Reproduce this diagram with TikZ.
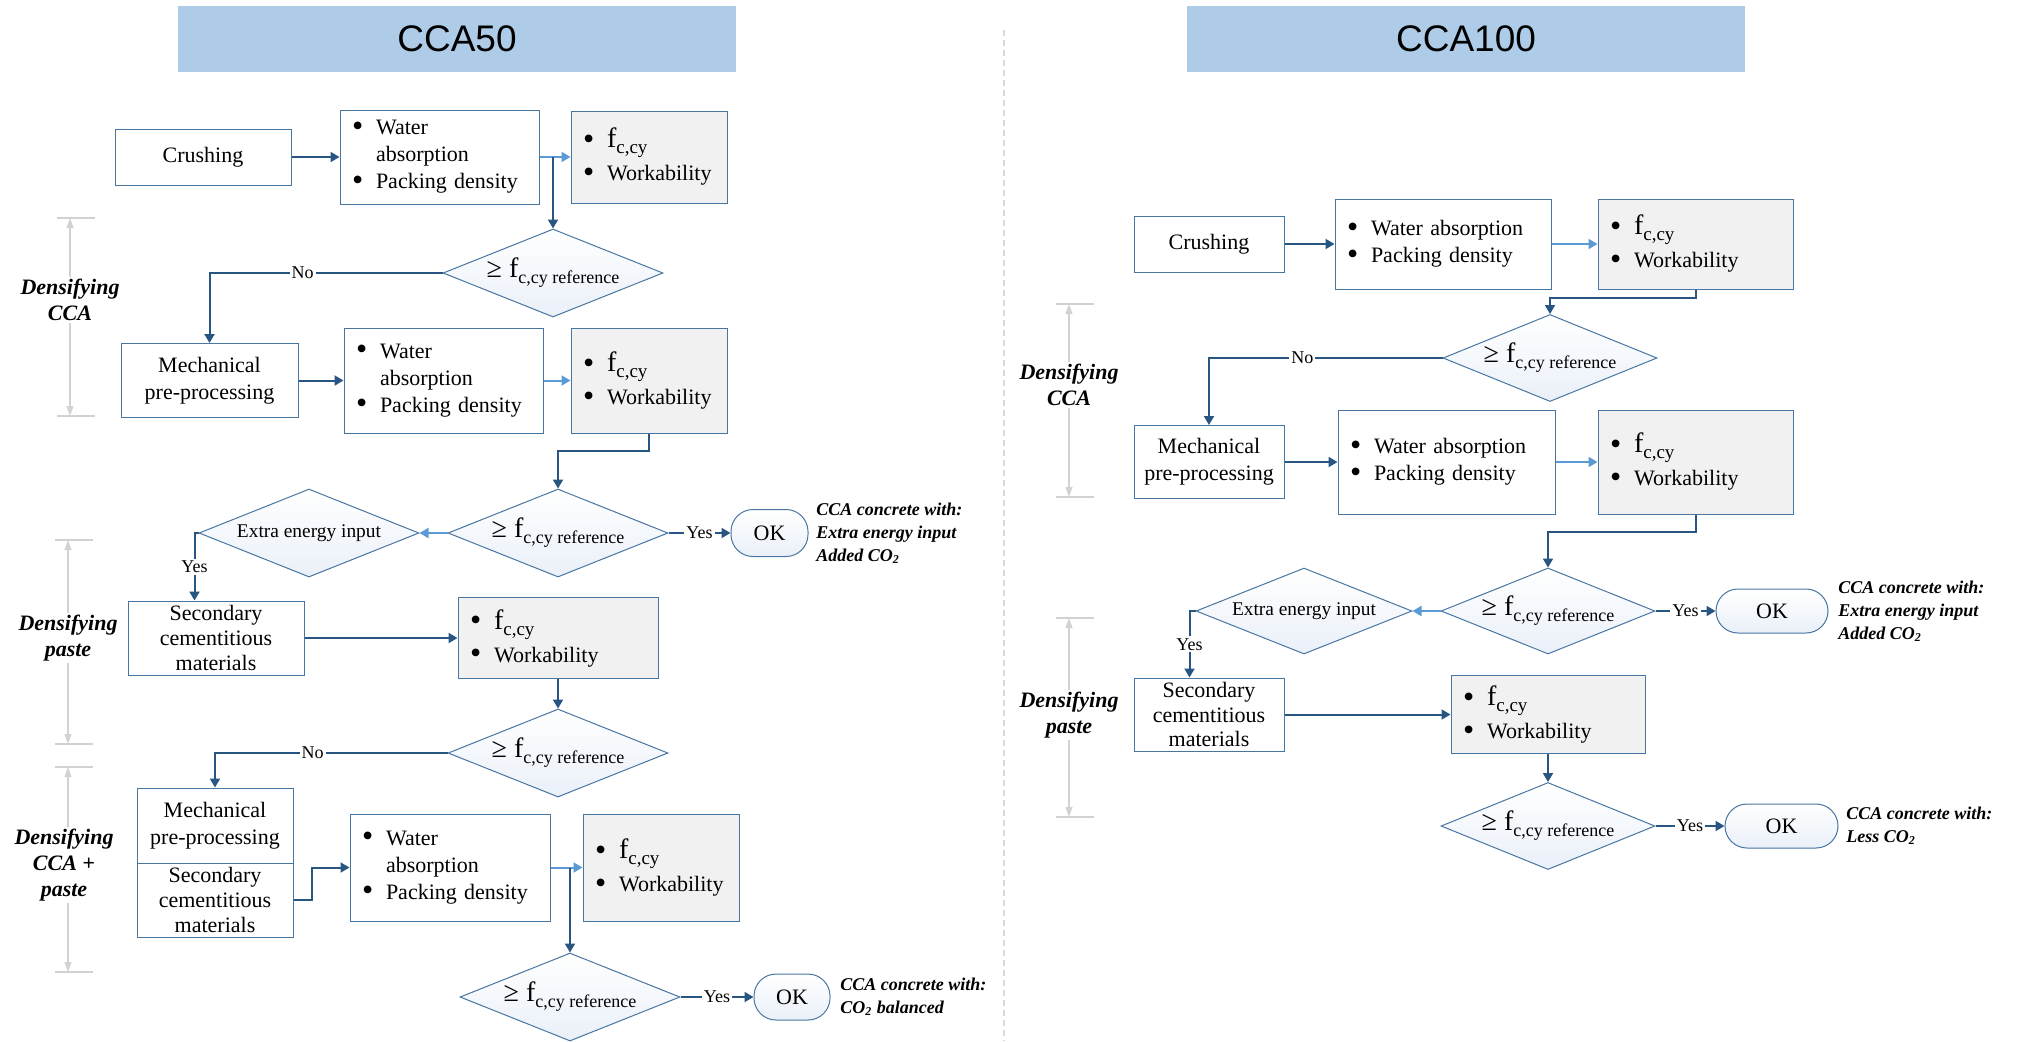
\documentclass[tikz,border=0pt]{standalone}
\usepackage{fontspec}
\setmainfont{Liberation Serif}
\setsansfont{Liberation Sans}
\usetikzlibrary{arrows.meta,positioning,calc,shapes.geometric}
\definecolor{cTitle}{RGB}{174,204,232}
\definecolor{cLine} {RGB}{72,118,162}
\definecolor{cArr}  {RGB}{40,85,130}
\definecolor{cLight}{RGB}{91,155,213}
\definecolor{cGray} {RGB}{241,241,241}
\definecolor{cDia}  {RGB}{234,240,249}
\newcommand{\itm}{\makebox[12pt][l]{\raisebox{-0.8pt}{\fontsize{16}{16}\selectfont\textbullet}}}
\newcommand{\itmind}{\hspace*{12pt}}
\newcommand{\fccy}{{\fontsize{14}{14}\selectfont f}\raisebox{-3pt}{\fontsize{9.5}{9.5}\selectfont c,cy}}
\newcommand{\fcyref}{{\fontsize{14}{14}\selectfont ≥ f}\raisebox{-3pt}{\fontsize{9}{9}\selectfont c,cy reference}}
\newcommand{\fwlist}{\itm\fccy\\[3pt]\itm Workability}
\newcommand{\wpsplit}{\itm Water\\\itmind absorption\\\itm Packing density}
\newcommand{\wpline}{\itm Water absorption\\\itm Packing density}
\tikzset{
  >={Triangle[length=4.5pt,width=5pt]},
  ttl/.style={fill=cTitle,minimum width=279pt,minimum height=33pt,
              font=\sffamily\fontsize{18.5}{20}\selectfont},
  box/.style={draw=cLine,fill=white,line width=0.5pt,inner sep=0pt,align=center,
              font=\fontsize{11}{13.5}\selectfont},
  sec/.style={font=\fontsize{11}{12.4}\selectfont},          % three-line boxes
  lbox/.style={box,align=left,inner xsep=6pt},                % bullet list box
  glbox/.style={lbox,fill=cGray},                             % grey result box
  dec/.style={diamond,draw=cLine,line width=0.5pt,inner sep=0pt,aspect=2.5,
              top color=white,bottom color=cDia,minimum width=110pt,minimum height=44pt},
  okbox/.style={draw=cLine,line width=0.5pt,rounded corners=11pt,inner sep=0pt,
              top color=white,bottom color=cDia,font=\fontsize{11}{11}\selectfont},
  note/.style={anchor=west,inner sep=0pt,align=left,
              font=\bfseries\itshape\fontsize{9}{11.5}\selectfont},
  dens/.style={fill=white,inner sep=1pt,align=center,
              font=\bfseries\itshape\fontsize{11}{13}\selectfont},
  arr/.style={->,draw=cArr,line width=1pt},
  larr/.style={->,draw=cLight,line width=1pt},
  lbl/.style={fill=white,inner sep=1pt,text=black,font=\fontsize{9}{9}\selectfont},
  brk/.style={draw=gray!35,line width=0.6pt},
  brka/.style={brk,>={Triangle[length=5pt,width=3.5pt]},<->},
  sepl/.style={draw=gray!30,line width=0.8pt,dash pattern=on 3pt off 2pt},
}
\begin{document}
\begin{tikzpicture}[x=0.5pt,y=-0.5pt]
  \useasboundingbox (0,0) rectangle (2018,1041);
  \draw[sepl] (1004,30) -- (1004,1041);

  % ---- CCA50 ----
  \node[ttl] (tL) at (457,39) {CCA50};
  \node[box,minimum width=88pt,minimum height=28pt] (crushL) at (203,157) {Crushing};
  \node[lbox,text width=87.5pt,minimum height=47pt] (wpL1) at (439.5,157) {\wpsplit};
  \node[glbox,text width=66pt,minimum height=46pt] (fwL1) at (649,157) {\fwlist};
  \node[dec] (decL1) at (553,273) {\fcyref};
  \node[box,minimum width=88.5pt,minimum height=37pt] (mechL) at (209.5,380.5) {Mechanical\\pre-processing};
  \node[lbox,text width=87.5pt,minimum height=52.5pt] (wpL2) at (443.5,380.5) {\wpsplit};
  \node[glbox,text width=66pt,minimum height=52.5pt] (fwL2) at (649,380.5) {\fwlist};
  \node[dec] (decL2) at (558,533) {\fcyref};
  \node[dec,font=\fontsize{9.7}{11}\selectfont] (extraL) at (309,533) {Extra energy input};
  \node[okbox,minimum width=38.5pt,minimum height=23.5pt] (okL1) at (769.5,533) {OK};
  \node[note] (nL1) at (816,533) {CCA concrete with:\\Extra energy input\\Added CO\textsubscript{2}};
  \node[box,sec,minimum width=88pt,minimum height=37pt] (secL) at (216,638) {Secondary\\cementitious\\materials};
  \node[glbox,text width=88pt,minimum height=40.5pt] (fwL3) at (558,638) {\fwlist};
  \node[dec] (decL3) at (558,753) {\fcyref};
  \node[box,minimum width=78pt,minimum height=37.5pt] (mechL2) at (215,825.5) {Mechanical\\pre-processing};
  \node[box,sec,minimum width=78pt,minimum height=37pt] (secL2) at (215,900) {Secondary\\cementitious\\materials};
  \node[lbox,text width=88pt,minimum height=53.5pt] (wpL3) at (450,867.5) {\wpsplit};
  \node[glbox,text width=66pt,minimum height=53.5pt] (fwL4) at (661,867.5) {\fwlist};
  \node[dec] (decL4) at (570,997) {\fcyref};
  \node[okbox,minimum width=38pt,minimum height=23pt] (okL2) at (792,997) {OK};
  \node[note] (nL2) at (840,997) {CCA concrete with:\\CO\textsubscript{2} balanced};

  \draw[arr]  (crushL.east) -- (wpL1.west);
  \draw[larr] (wpL1.east) -- (fwL1.west);
  \draw[arr]  (decL1.north |- wpL1.east) -- (decL1.north);
  \draw[arr]  (decL1.west) -| node[lbl,pos=0.3]{No} (mechL.north);
  \draw[arr]  (mechL.east) -- (wpL2.west);
  \draw[larr] (wpL2.east) -- (fwL2.west);
  \draw[arr]  (fwL2.south) -- ++(0,17) -| (decL2.north);
  \draw[larr] (decL2.west) -- (extraL.east);
  \draw[arr]  (decL2.east) -- node[lbl]{Yes} (okL1.west);
  \draw[arr]  (extraL.west) -- ++(-4,0) -- node[lbl]{Yes} ($(extraL.west |- secL.north)+(-4,0)$);
  \draw[arr]  (secL.east) -- (fwL3.west);
  \draw[arr]  (fwL3.south) -- (decL3.north);
  \draw[arr]  (decL3.west) -| node[lbl,pos=0.29]{No} (mechL2.north);
  \draw[arr]  (secL2.east) -- ++(18,0) |- (wpL3.west);
  \draw[larr] (wpL3.east) -- (fwL4.west);
  \draw[arr]  (decL4.north |- wpL3.east) -- (decL4.north);
  \draw[arr]  (decL4.east) -- node[lbl]{Yes} (okL2.west);

  % ---- CCA100 ----
  \node[ttl] (tR) at (1466,39) {CCA100};
  \node[box,minimum width=75pt,minimum height=28pt] (crushR) at (1209,244) {Crushing};
  \node[lbox,text width=96pt,minimum height=45pt] (wpR1) at (1443,244) {\wpline};
  \node[glbox,text width=85.5pt,minimum height=45pt] (fwR1) at (1695.5,244) {\fwlist};
  \node[dec,minimum width=107pt,minimum height=43.5pt] (decR1) at (1550,358) {\fcyref};
  \node[box,minimum width=75pt,minimum height=36.5pt] (mechR) at (1209,462) {Mechanical\\pre-processing};
  \node[lbox,text width=96.5pt,minimum height=52pt] (wpR2) at (1446.5,462) {\wpline};
  \node[glbox,text width=85.5pt,minimum height=52pt] (fwR2) at (1695.5,462) {\fwlist};
  \node[dec,minimum width=107pt,minimum height=43pt] (decR2) at (1548,611) {\fcyref};
  \node[dec,minimum width=108pt,minimum height=43pt,font=\fontsize{9.7}{11}\selectfont] (extraR) at (1304,611) {Extra energy input};
  \node[okbox,minimum width=56pt,minimum height=22pt] (okR1) at (1772,611) {OK};
  \node[note] (nR1) at (1838,611) {CCA concrete with:\\Extra energy input\\Added CO\textsubscript{2}};
  \node[box,sec,minimum width=75pt,minimum height=36.5pt] (secR) at (1209,714.5) {Secondary\\cementitious\\materials};
  \node[glbox,text width=85pt,minimum height=39pt] (fwR3) at (1548,714.5) {\fwlist};
  \node[dec,minimum width=107pt,minimum height=43.5pt] (decR3) at (1548,826) {\fcyref};
  \node[okbox,minimum width=56.5pt,minimum height=22pt] (okR2) at (1781.5,826) {OK};
  \node[note] (nR2) at (1846,826) {CCA concrete with:\\Less CO\textsubscript{2}};

  \draw[arr]  (crushR.east) -- (wpR1.west);
  \draw[larr] (wpR1.east) -- (fwR1.west);
  \draw[arr]  (fwR1.south) -- ++(0,8) -| (decR1.north);
  \draw[arr]  (decR1.west) -| node[lbl,pos=0.3]{No} (mechR.north);
  \draw[arr]  (mechR.east) -- (wpR2.west);
  \draw[larr] (wpR2.east) -- (fwR2.west);
  \draw[arr]  (fwR2.south) -- ++(0,17) -| (decR2.north);
  \draw[larr] (decR2.west) -- (extraR.east);
  \draw[arr]  (decR2.east) -- node[lbl]{Yes} (okR1.west);
  \draw[arr]  (extraR.west) -- ++(-6,0) -- node[lbl]{Yes} ($(extraR.west |- secR.north)+(-6,0)$);
  \draw[arr]  (secR.east) -- (fwR3.west);
  \draw[arr]  (fwR3.south) -- (decR3.north);
  \draw[arr]  (decR3.east) -- node[lbl]{Yes} (okR2.west);

  % stage brackets
  \foreach \bx/\ya/\yb in {70/218/416,68/540/744,68/767/972,1069/304/497,1069/618/817}{
    \draw[brk] (\bx-13,\ya) -- (\bx+25,\ya) (\bx-13,\yb) -- (\bx+25,\yb);
    \draw[brka] (\bx,\ya) -- (\bx,\yb);
  }
  \node[dens] (sL1) at (70,300) {Densifying\\CCA};
  \node[dens] (sL2) at (68,638) {Densifying\\paste};
  \node[dens] (sL3) at (64,865) {Densifying\\CCA +\\paste};
  \node[dens] (sR1) at (1069,385) {Densifying\\CCA};
  \node[dens] (sR2) at (1069,715) {Densifying\\paste};
\end{tikzpicture}
\end{document}
